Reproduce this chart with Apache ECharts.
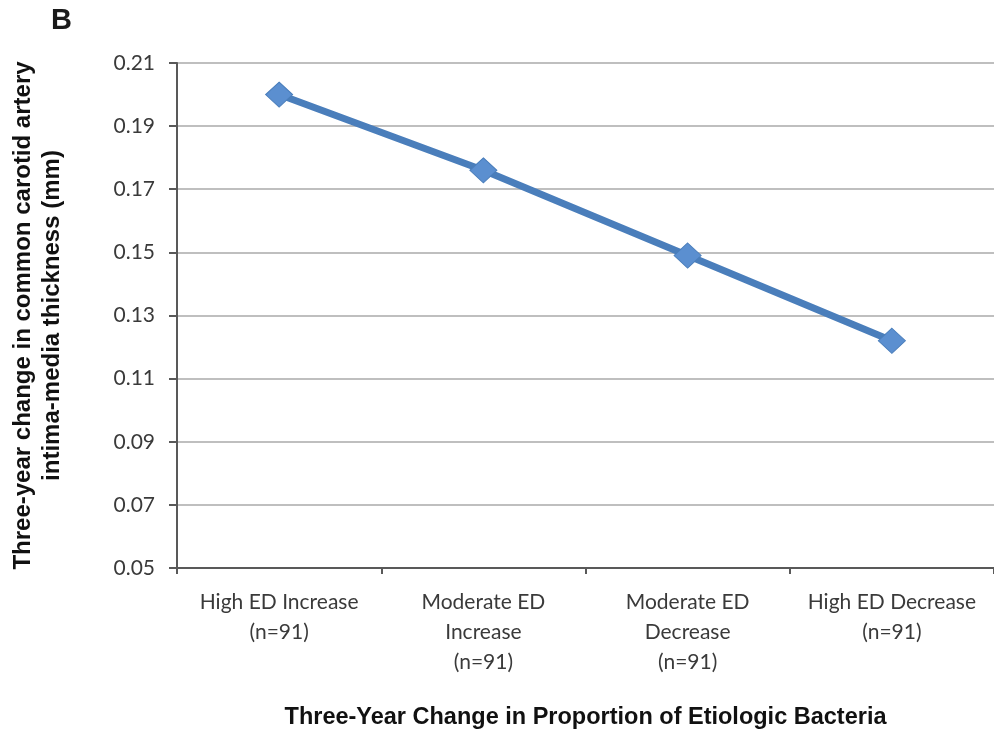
<!DOCTYPE html>
<html><head><meta charset="utf-8">
<script src="https://cdn.jsdelivr.net/npm/echarts@6/dist/echarts.min.js"></script>
<style>html,body{margin:0;padding:0;background:#fff}#c{width:994px;height:736px}</style>
</head><body><div id="c"></div>
<script>
var categories = ["High ED Increase\n(n=91)", "Moderate ED\nIncrease\n(n=91)", "Moderate ED\nDecrease\n(n=91)", "High ED Decrease\n(n=91)"];
var values = [0.200, 0.176, 0.149, 0.122];
var yTitle = "Three-year change in common carotid artery\nintima-media thickness (mm)";
var xTitle = "Three-Year Change in Proportion of Etiologic Bacteria";
var panelLabel = "B";

var chart = echarts.init(document.getElementById('c'));
chart.setOption({
  animation: false,
  backgroundColor: '#fff',
  graphic: [{type:'text', left: 51, top: 6, style:{text: panelLabel, font:'bold 29px "Liberation Sans", Arial', fill:'#1a1a1a'}}],
  grid: {left: 177, top: 63, width: 822, height: 505, containLabel: false},
  xAxis: {
    type: 'category', data: categories, boundaryGap: true,
    axisLine: {lineStyle: {color: '#595959', width: 2}},
    axisTick: {show: true, inside: false, length: 6, lineStyle: {color: '#595959', width: 2}},
    axisLabel: {interval: 0, margin: 19, fontFamily: 'Lato', fontSize: 21, lineHeight: 30, color: '#3a3a3a'},
    name: xTitle, nameLocation: 'middle', nameGap: 138,
    nameTextStyle: {fontFamily: '"Liberation Sans", Arial', fontWeight: 'bold', fontSize: 23.5, color: '#111'}
  },
  yAxis: {
    type: 'value', min: 0.05, max: 0.21, interval: 0.02,
    axisLine: {show: true, lineStyle: {color: '#595959', width: 2}},
    axisTick: {show: true, length: 8, lineStyle: {color: '#595959', width: 2}},
    axisLabel: {margin: 22, fontFamily: 'Lato', fontSize: 21, color: '#3a3a3a', formatter: function(v){return v.toFixed(2);}},
    splitLine: {show: true, lineStyle: {color: '#bfbfbf', width: 2}},
    name: yTitle, nameLocation: 'middle', nameGap: 110, nameRotate: 90,
    nameTextStyle: {fontFamily: '"Liberation Sans", Arial', fontWeight: 'bold', fontSize: 24, color: '#111', lineHeight: 29, align: 'center'}
  },
  series: [{
    type: 'line', data: values,
    lineStyle: {color: '#4a7ebb', width: 7},
    symbol: 'diamond', symbolSize: [27, 25],
    itemStyle: {color: '#5b8fd0', borderColor: '#4a7ebb', borderWidth: 1}
  }]
});
</script></body></html>
